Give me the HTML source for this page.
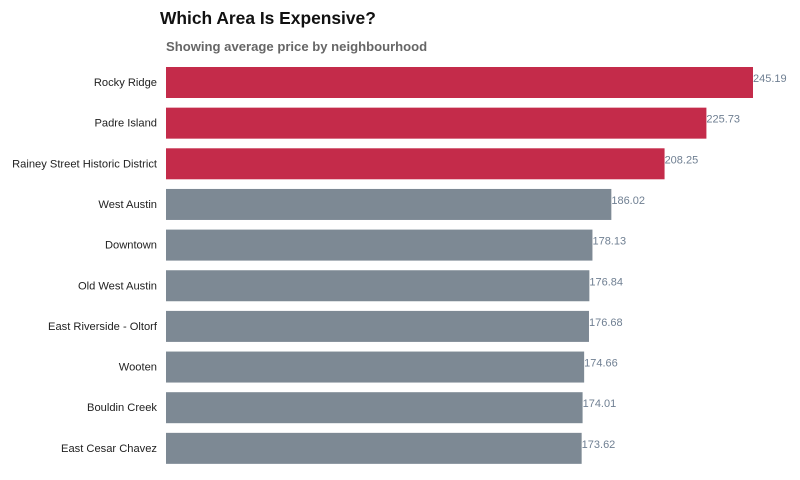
<!DOCTYPE html>
<html><head><meta charset="utf-8"><style>
body{margin:0;background:#fff;font-family:"Liberation Sans",Arial,sans-serif}
svg{display:block}
</style></head><body>
<svg id="chart" width="800" height="480" font-family="Liberation Sans, Arial, sans-serif">
<text x="160" y="24" font-size="17.4" font-weight="bold" fill="#111">Which Area Is Expensive?</text>
<text x="166" y="51" font-size="13.1" font-weight="bold" fill="#666">Showing average price by neighbourhood</text>
<g id="bars"></g>
</svg>
<script>
const categories=["Rocky Ridge","Padre Island","Rainey Street Historic District","West Austin","Downtown","Old West Austin","East Riverside - Oltorf","Wooten","Bouldin Creek","East Cesar Chavez"];
const values=[245.19,225.73,208.25,186.02,178.13,176.84,176.68,174.66,174.01,173.62];
const highlightCount=3;
const x0=166,pxPerUnit=(753-166)/245.19;
const xs=v=>x0+v*pxPerUnit;
const yc=i=>82.5+i*40.65;
const barH=31;
const g=document.getElementById('bars');
const ns='http://www.w3.org/2000/svg';
categories.forEach((c,i)=>{
  const r=document.createElementNS(ns,'rect');
  r.setAttribute('x',x0);r.setAttribute('y',yc(i)-barH/2);
  r.setAttribute('width',xs(values[i])-x0);r.setAttribute('height',barH);
  r.setAttribute('fill',i<highlightCount?'#c42b4a':'#7d8994');
  
  
  g.appendChild(r);
  const t=document.createElementNS(ns,'text');
  t.setAttribute('x',157);t.setAttribute('y',yc(i)+3.5);
  t.setAttribute('text-anchor','end');t.setAttribute('font-size','11.15');t.setAttribute('fill','#222');
  t.textContent=c;
  
  
  g.appendChild(t);
  const v=document.createElementNS(ns,'text');
  v.setAttribute('x',xs(values[i]));v.setAttribute('y',yc(i)-0.5);
  v.setAttribute('font-size','11');v.setAttribute('fill','#6f7f92');
  v.textContent=values[i].toFixed(2);
  
  
  g.appendChild(v);
});
</script>
</body></html>
